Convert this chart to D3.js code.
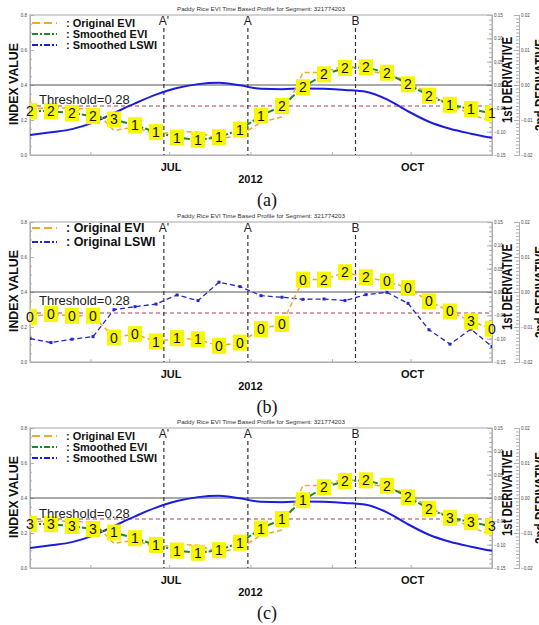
<!DOCTYPE html>
<html>
<head>
<meta charset="utf-8">
<script src="https://cdn.jsdelivr.net/npm/d3@7"></script>
<style>
  body { margin: 0; background: #fff; }
  svg { display: block; }
</style>
</head>
<body>
<div id="chart"></div>
<script>
// 8-day composite dates
const dates = ["2012-05-09","2012-05-17","2012-05-25","2012-06-02","2012-06-10","2012-06-18",
  "2012-06-26","2012-07-04","2012-07-12","2012-07-20","2012-07-28","2012-08-05","2012-08-13",
  "2012-08-21","2012-08-29","2012-09-06","2012-09-14","2012-09-22","2012-09-30","2012-10-08",
  "2012-10-16","2012-10-24","2012-11-01"];

const originalEVI = [0.259, 0.274, 0.264, 0.264, 0.14, 0.159, 0.117, 0.136, 0.13, 0.092, 0.111, 0.188,
  0.217, 0.471, 0.471, 0.513, 0.484, 0.461, 0.423, 0.347, 0.289, 0.232, 0.19];
const smoothedEVI = [0.252, 0.25, 0.24, 0.222, 0.203, 0.17, 0.131, 0.1, 0.087, 0.102, 0.145, 0.225,
  0.28, 0.387, 0.461, 0.497, 0.501, 0.47, 0.404, 0.339, 0.287, 0.262, 0.238];
const originalLSWI = [0.134, 0.111, 0.13, 0.145, 0.299, 0.316, 0.331, 0.383, 0.351, 0.456, 0.431, 0.379,
  0.37, 0.358, 0.36, 0.351, 0.385, 0.398, 0.335, 0.184, 0.102, 0.188, 0.088];
const smoothedLSWI = [0.114, 0.13, 0.148, 0.185, 0.24, 0.295, 0.345, 0.383, 0.405, 0.413, 0.398, 0.378,
  0.376, 0.38, 0.378, 0.372, 0.362, 0.318, 0.25, 0.19, 0.15, 0.122, 0.098];

// class labels drawn in the yellow boxes
const labelsA = [2,2,2,2,3,1,1,1,1,1,1,1,2,2,2,2,2,2,2,2,1,1,1];
const labelsB = [0,0,0,0,0,0,1,1,1,0,0,0,0,0,2,2,2,0,0,0,0,3,0];
const labelsC = [3,3,3,3,1,1,1,1,1,1,1,1,1,1,2,2,2,2,2,2,3,3,3];

const markerNames = ["A'", "A", "B"];
const markerDates = ["2012-06-29", "2012-07-31", "2012-09-10"];
const monthNames = ["JUL", "OCT"];
const monthDates = ["2012-07-01", "2012-10-01"];
const threshold = 0.28;
const leftTicks = [0, 0.2, 0.4, 0.6, 0.8];
const d1Ticks = [-0.15, -0.10, -0.05, 0, 0.05, 0.10, 0.15];
const d2Ticks = [-0.02, -0.01, 0, 0.01, 0.02];

const parse = d3.timeParse("%Y-%m-%d");
const rows = dates.map((d, i) => ({
  date: parse(d), oEVI: originalEVI[i], sEVI: smoothedEVI[i], oLSWI: originalLSWI[i], sLSWI: smoothedLSWI[i]
}));

const W = 539, H = 625;
const svg = d3.select("#chart").append("svg").attr("width", W).attr("height", H);

const x = d3.scaleTime().domain([parse("2012-05-09"), parse("2012-11-01")]).range([30, 492]);

const styles = {
  oEVI:  {color: "#f2a735", width: 1.5, dash: "5,3", label: "Original EVI"},
  sEVI:  {color: "#1f8a24", width: 2,   dash: "7,2,2,2", label: "Smoothed EVI"},
  sLSWI: {color: "#1c1ce0", width: 2,   dash: null, label: "Smoothed LSWI"},
  oLSWI: {color: "#2727c8", width: 1.3, dash: "5,3", label: "Original LSWI"}
};

const panels = [
  {off: 0,   series: ["sLSWI", "oEVI", "sEVI"], legend: ["oEVI", "sEVI", "sLSWI"], legendY: 23, legendStep: 11, legendFont: 11,
   labels: labelsA, labelKey: "sEVI", thY: 104, caption: "(a)"},
  {off: 207, series: ["oLSWI", "oEVI"], legend: ["oEVI", "oLSWI"], legendY: 21, legendStep: 14, legendFont: 12.5,
   labels: labelsB, labelKey: "oEVI", thY: 98, caption: "(b)"},
  {off: 413, series: ["sLSWI", "oEVI", "sEVI"], legend: ["oEVI", "sEVI", "sLSWI"], legendY: 23, legendStep: 11, legendFont: 11,
   labels: labelsC, labelKey: "sEVI", thY: 105, caption: "(c)"}
];

panels.forEach((p, pi) => drawPanel(p, pi));

function drawPanel(p, pi) {
  const top = 15 + p.off, bottom = 155 + p.off;
  const g = svg.append("g");
  const y = d3.scaleLinear().domain([0, 0.8]).range([bottom, top]);
  const yd1 = d3.scaleLinear().domain([-0.15, 0.15]).range([bottom, top]);
  const yd2 = d3.scaleLinear().domain([-0.02, 0.02]).range([bottom, top]);

  g.append("clipPath").attr("id", "clip" + pi)
    .append("rect").attr("x", 30).attr("y", top).attr("width", 462).attr("height", bottom - top);

  // title
  g.append("text").attr("x", 177).attr("y", top - 4)
    .attr("font-family", "Liberation Sans, Arial").attr("font-size", 5.5).attr("fill", "#333")
    .attr("textLength", 168).attr("lengthAdjust", "spacingAndGlyphs")
    .text("Paddy Rice EVI Time Based Profile for Segment: 321774203");

  // frame
  g.append("rect").attr("x", 30).attr("y", top).attr("width", 462).attr("height", bottom - top)
    .attr("fill", "none").attr("stroke", "#b5b5b5").attr("stroke-width", 1.2);

  // left axis
  const la = g.append("g").attr("transform", "translate(30,0)")
    .call(d3.axisLeft(y).tickValues(leftTicks).tickSize(-4).tickPadding(3).tickFormat(d3.format(".1f")));
  g.append("g").attr("transform", "translate(30,0)")
    .call(d3.axisLeft(y).tickValues(d3.range(0, 0.81, 0.05)).tickSize(-2).tickFormat(""));
  // bottom axis (month ticks)
  g.append("g").attr("transform", `translate(0,${bottom})`)
    .call(d3.axisBottom(x).ticks(d3.timeMonth.every(1)).tickSize(-3).tickFormat(""));
  // 1st derivative axis
  g.append("g").attr("transform", "translate(492,0)")
    .call(d3.axisRight(yd1).tickValues(d1Ticks).tickSize(-5).tickPadding(2).tickFormat(d3.format(".2f")));
  g.append("g").attr("transform", "translate(492,0)")
    .call(d3.axisRight(yd1).tickValues(d3.range(-0.15, 0.151, 0.01)).tickSize(-3).tickFormat(""));
  // 2nd derivative axis
  g.append("g").attr("transform", "translate(519,0)")
    .call(d3.axisRight(yd2).tickValues(d2Ticks).tickSize(-5).tickPadding(2).tickFormat(d3.format(".2f")));
  g.append("g").attr("transform", "translate(519,0)")
    .call(d3.axisRight(yd2).tickValues(d3.range(-0.02, 0.0201, 0.001)).tickSize(-3).tickFormat(""));

  g.selectAll(".domain, .tick line").attr("stroke", "#b0b0b0");
  g.selectAll(".tick text").attr("font-size", 4.5).attr("fill", "#444").attr("font-family", "Liberation Sans, Arial");

  // zero line of derivative (index 0.4)
  g.append("line").attr("x1", 30).attr("x2", 492).attr("y1", yd1(0)).attr("y2", yd1(0))
    .attr("stroke", "#555").attr("stroke-width", 1);
  // threshold
  g.append("line").attr("x1", 30).attr("x2", 492).attr("y1", y(threshold)).attr("y2", y(threshold))
    .attr("stroke", "#b03a55").attr("stroke-width", 1).attr("stroke-dasharray", "4,3");

  // vertical markers
  markerDates.forEach((d, i) => {
    const xx = x(parse(d));
    g.append("line").attr("x1", xx).attr("x2", xx).attr("y1", top + 13).attr("y2", bottom)
      .attr("stroke", "#333").attr("stroke-width", 1.2).attr("stroke-dasharray", "4,3");
    g.append("text").attr("x", xx).attr("y", top + 10).attr("text-anchor", "middle")
      .attr("font-family", "Liberation Sans, Arial").attr("font-size", 12).attr("fill", "#222")
      .text(markerNames[i]);
  });

  // series
  const plot = g.append("g").attr("clip-path", `url(#clip${pi})`);
  p.series.forEach(k => {
    const s = styles[k];
    const line = d3.line().x(d => x(d.date)).y(d => y(d[k]));
    if (k === "sLSWI") line.curve(d3.curveMonotoneX);
    plot.append("path").datum(rows).attr("d", line)
      .attr("fill", "none").attr("stroke", s.color).attr("stroke-width", s.width)
      .attr("stroke-dasharray", s.dash);
    if (k === "oLSWI") {
      plot.selectAll(".dot").data(rows).enter().append("rect")
        .attr("x", d => x(d.date) - 1.5).attr("y", d => y(d[k]) - 1.5)
        .attr("width", 3).attr("height", 3).attr("fill", s.color);
    }
  });

  // class label boxes
  plot.selectAll(".lab").data(rows).enter().append("rect")
    .attr("x", d => x(d.date) - 7).attr("y", d => y(d[p.labelKey]) - 8)
    .attr("width", 14).attr("height", 16).attr("fill", "#f7f700");
  g.selectAll(".labt").data(rows).enter().append("text")
    .attr("x", d => x(d.date)).attr("y", d => y(d[p.labelKey]) + 5)
    .attr("text-anchor", "middle").attr("font-family", "Liberation Sans, Arial")
    .attr("font-size", 14).attr("fill", "#111")
    .text((d, i) => p.labels[i]);

  // legend
  p.legend.forEach((k, i) => {
    const s = styles[k];
    const ly = top + p.legendY - 15 + i * p.legendStep;
    g.append("line").attr("x1", 32).attr("x2", 57).attr("y1", ly).attr("y2", ly)
      .attr("stroke", s.color).attr("stroke-width", 2)
      .attr("stroke-dasharray", k === "oEVI" ? "8,4" : (k === "oLSWI" ? "6,2,2,2" : "6,2,2,2"));
    g.append("text").attr("x", 66).attr("y", ly + 4)
      .attr("font-family", "Liberation Sans, Arial").attr("font-weight", "bold")
      .attr("font-size", p.legendFont).attr("fill", "#111")
      .text(": " + s.label);
  });

  // threshold text
  g.append("text").attr("x", 39).attr("y", p.off + p.thY)
    .attr("font-family", "Liberation Sans, Arial").attr("font-size", 13).attr("fill", "#222")
    .text("Threshold=" + threshold);

  // axis titles
  g.append("text").attr("transform", `translate(18,${p.off + 84}) rotate(-90)`)
    .attr("text-anchor", "middle").attr("font-family", "Liberation Sans, Arial")
    .attr("font-weight", "bold").attr("font-size", 13).attr("fill", "#111")
    .attr("textLength", 82).attr("lengthAdjust", "spacingAndGlyphs")
    .text("INDEX VALUE");
  g.append("text").attr("transform", `translate(512,${p.off + 80}) rotate(-90)`)
    .attr("text-anchor", "middle").attr("font-family", "Liberation Sans, Arial")
    .attr("font-weight", "bold").attr("font-size", 14).attr("fill", "#111")
    .attr("textLength", 86).attr("lengthAdjust", "spacingAndGlyphs")
    .text("1st DERIVATIVE");
  g.append("text").attr("transform", `translate(545,${p.off + 85}) rotate(-90)`)
    .attr("text-anchor", "middle").attr("font-family", "Liberation Sans, Arial")
    .attr("font-weight", "bold").attr("font-size", 14).attr("fill", "#111")
    .attr("textLength", 92).attr("lengthAdjust", "spacingAndGlyphs")
    .text("2nd DERIVATIVE");

  // month and year labels
  monthDates.forEach((d, i) => {
    g.append("text").attr("x", x(parse(d)) + 2).attr("y", bottom + 16).attr("text-anchor", "middle")
      .attr("font-family", "Liberation Sans, Arial").attr("font-weight", "bold")
      .attr("font-size", 11).attr("fill", "#111").text(monthNames[i]);
  });
  g.append("text").attr("x", x(parse("2012-08-01"))).attr("y", bottom + 28).attr("text-anchor", "middle")
    .attr("font-family", "Liberation Sans, Arial").attr("font-weight", "bold")
    .attr("font-size", 11).attr("fill", "#111").text("2012");

  // caption
  g.append("text").attr("x", 267).attr("y", p.off + 206).attr("text-anchor", "middle")
    .attr("font-family", "Liberation Serif, Times New Roman, serif").attr("font-size", 18)
    .attr("fill", "#111").text(p.caption);
}
</script>
</body>
</html>
